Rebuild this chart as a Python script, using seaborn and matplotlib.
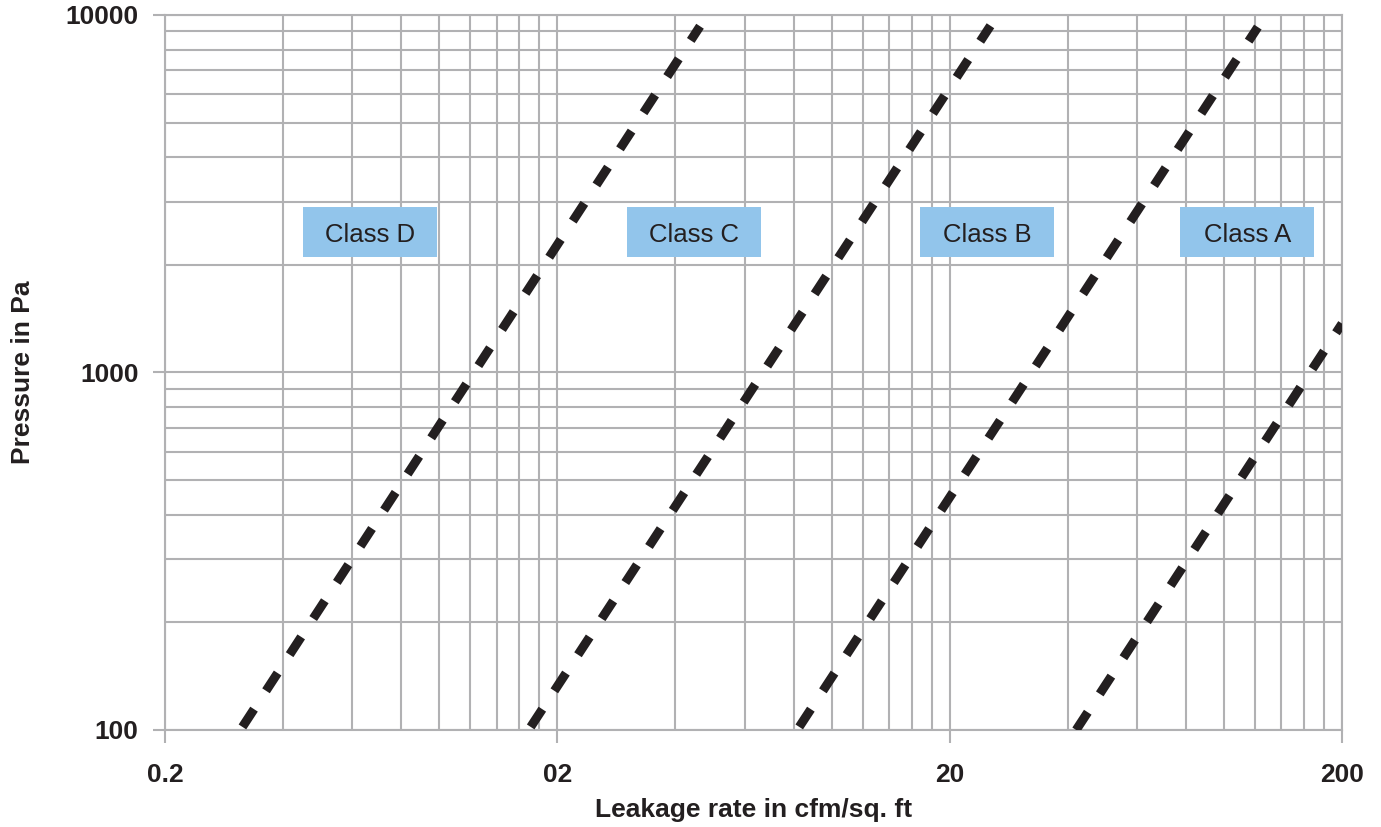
# Leakage rate vs pressure, duct leakage classes (log-log chart)
import matplotlib
matplotlib.use("Agg")
import matplotlib.pyplot as plt
import matplotlib.ticker as mticker
import matplotlib.transforms as mtransforms
from matplotlib.patches import Rectangle
import pandas as pd
import seaborn as sns

# class boundary lines (leakage in cfm/sq. ft, pressure in Pa)
line_names = ["D/C", "C/B", "B/A", "A"]
leak_start = [0.315, 1.71, 8.27, 42.0]
leak_end = [4.62, 25.4, 122.0, 200.0]
press_start = [102, 102, 102, 100]
press_end = [9300, 9330, 9250, 1370]

# class labels
class_labels = ["Class D", "Class C", "Class B", "Class A"]
label_x = [0.666, 4.46, 24.9, 114.6]
label_y = [2467, 2467, 2467, 2467]

# axes ticks
x_ticks = [0.2, 2, 20, 200]
x_tick_labels = ["0.2", "02", "20", "200"]
y_ticks = [100, 1000, 10000]
y_tick_labels = ["100", "1000", "10000"]

df = pd.DataFrame({
    "linha": line_names * 2,
    "leakage": leak_start + leak_end,
    "pressure": press_start + press_end,
})

sns.set_style("white")
plt.rcParams["font.family"] = ["Liberation Sans", "DejaVu Sans"]

grid_color = "#B1B1B3"
text_color = "#231F20"

fig, ax = plt.subplots(figsize=(13.81, 8.27), dpi=100)
fig.subplots_adjust(left=0.1195, right=0.9718, bottom=0.1173, top=0.9819)

for nome in line_names:
    sub = df[df["linha"] == nome]
    sns.lineplot(data=sub, x="leakage", y="pressure", ax=ax, color=text_color,
                 lw=6.5, linestyle=(0, (2.35, 2.43)), legend=False, zorder=5)

ax.set_xscale("log")
ax.set_yscale("log")
ax.set_xlim(0.2, 200)
ax.set_ylim(100, 10000)

# grid like the Excel chart: minor lines at 2x..9x of each decade start
ax.xaxis.set_minor_locator(mticker.FixedLocator([m * k for m in (0.2, 2, 20) for k in range(2, 10)]))
ax.yaxis.set_minor_locator(mticker.LogLocator(base=10, subs=range(2, 10)))
ax.xaxis.set_minor_formatter(mticker.NullFormatter())
ax.yaxis.set_minor_formatter(mticker.NullFormatter())
ax.set_xticks(x_ticks, labels=x_tick_labels)
ax.set_yticks(y_ticks, labels=y_tick_labels)
ax.grid(True, which="both", color=grid_color, lw=1.5, zorder=0)
ax.set_axisbelow(True)

ax.tick_params(which="major", direction="out", length=9, width=1.5, color=grid_color,
               labelsize=19, labelcolor=text_color, bottom=True, left=True)
ax.tick_params(axis="x", which="major", pad=15)
ax.tick_params(axis="y", which="major", pad=10)
ax.tick_params(which="minor", length=0)
for lbl in ax.get_xticklabels() + ax.get_yticklabels():
    lbl.set_fontweight("bold")
for sp in ax.spines.values():
    sp.set_color(grid_color)
    sp.set_linewidth(1.5)

ax.set_xlabel("Leakage rate in cfm/sq. ft", fontsize=19, fontweight="bold",
              color=text_color, labelpad=8)
ax.set_ylabel("Pressure in Pa", fontsize=19, fontweight="bold",
              color=text_color, labelpad=22)

# blue boxes with class names
for txt, lx, ly in zip(class_labels, label_x, label_y):
    tr = fig.dpi_scale_trans + mtransforms.ScaledTranslation(lx, ly, ax.transData)
    ax.add_patch(Rectangle((-0.67, -0.25), 1.34, 0.50, transform=tr,
                           facecolor="#92C5EB", edgecolor="none", zorder=4))
    tr_txt = mtransforms.offset_copy(ax.transData, fig=fig, x=0, y=-3, units="dots")
    ax.text(lx, ly, txt, ha="center", va="center", fontsize=18.5,
            color=text_color, zorder=6, transform=tr_txt)

fig.savefig("out.png", dpi=100)
